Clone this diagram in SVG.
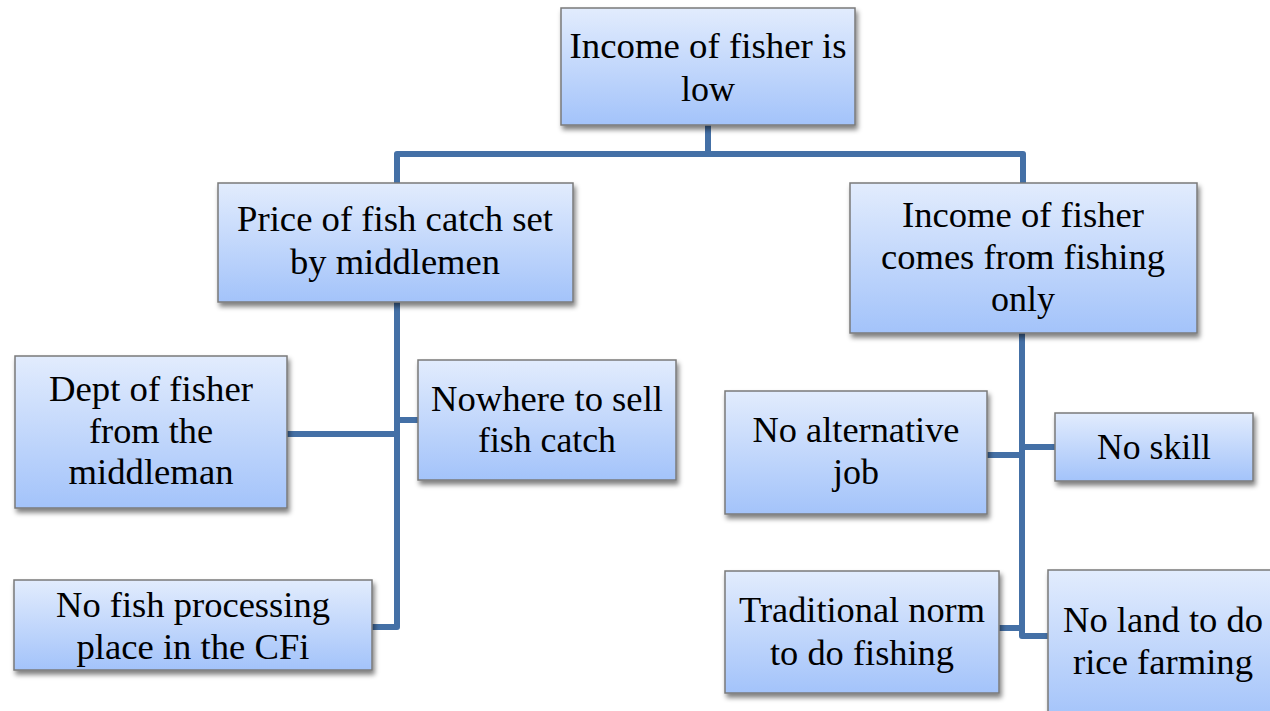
<svg xmlns="http://www.w3.org/2000/svg" width="1270" height="711" viewBox="0 0 1270 711">
<defs>
<linearGradient id="g" x1="0" y1="0" x2="0" y2="1">
<stop offset="0" stop-color="#e2ecfd"/>
<stop offset="1" stop-color="#a3c3fa"/>
</linearGradient>
<filter id="sh" x="-10%" y="-10%" width="125%" height="130%">
<feGaussianBlur in="SourceAlpha" stdDeviation="2.5"/>
<feOffset dx="2" dy="4" result="o"/>
<feComponentTransfer><feFuncA type="linear" slope="0.5"/></feComponentTransfer>
<feMerge><feMergeNode/><feMergeNode in="SourceGraphic"/></feMerge>
</filter>
</defs>
<style>
.box{fill:url(#g);stroke:#7a7a7a;stroke-width:1.5;filter:url(#sh)}
text{font-size:36px;fill:#000;text-anchor:middle}
.c{fill:none;stroke:#4470a6;stroke-width:6;stroke-linejoin:round}
</style>
<rect width="1270" height="711" fill="#fff"/>
<g id="connectors">
<path class="c" d="M708 125V154M397 183V154H1023V183"/>
<path class="c" d="M397 302V627H372M287 434H397M397 420H418"/>
<path class="c" d="M1022 333V636H1048M987 455H1022M1022 447H1055M999 628H1022"/>
</g>
<g font-family="Liberation Serif, Times New Roman, DejaVu Serif, serif">
<g id="n1"><rect class="box" x="561" y="8" width="294" height="117"/>
<text x="708" y="58" textLength="277" lengthAdjust="spacingAndGlyphs">Income of fisher is</text><text x="708" y="101">low</text></g>
<g id="n2"><rect class="box" x="218" y="183" width="355" height="119"/>
<text x="395" y="231" textLength="316" lengthAdjust="spacingAndGlyphs">Price of fish catch set</text><text x="395" y="274" textLength="210" lengthAdjust="spacingAndGlyphs">by middlemen</text></g>
<g id="n3"><rect class="box" x="850" y="183" width="347" height="150"/>
<text x="1023" y="227" textLength="242" lengthAdjust="spacingAndGlyphs">Income of fisher</text><text x="1023" y="269" textLength="284" lengthAdjust="spacingAndGlyphs">comes from fishing</text><text x="1023" y="311" textLength="64" lengthAdjust="spacingAndGlyphs">only</text></g>
<g id="n4"><rect class="box" x="15" y="356" width="272" height="152"/>
<text x="151" y="401" textLength="204" lengthAdjust="spacingAndGlyphs">Dept of fisher</text><text x="151" y="443" textLength="124" lengthAdjust="spacingAndGlyphs">from the</text><text x="151" y="484" textLength="165" lengthAdjust="spacingAndGlyphs">middleman</text></g>
<g id="n5"><rect class="box" x="418" y="360" width="258" height="120"/>
<text x="547" y="411" textLength="232" lengthAdjust="spacingAndGlyphs">Nowhere to sell</text><text x="547" y="452" textLength="138" lengthAdjust="spacingAndGlyphs">fish catch</text></g>
<g id="n6"><rect class="box" x="14" y="580" width="358" height="90"/>
<text x="193" y="617" textLength="274" lengthAdjust="spacingAndGlyphs">No fish processing</text><text x="193" y="659" textLength="233" lengthAdjust="spacingAndGlyphs">place in the CFi</text></g>
<g id="n7"><rect class="box" x="725" y="391" width="262" height="123"/>
<text x="856" y="442" textLength="207" lengthAdjust="spacingAndGlyphs">No alternative</text><text x="856" y="484">job</text></g>
<g id="n8"><rect class="box" x="1055" y="413" width="198" height="68"/>
<text x="1154" y="459" textLength="114" lengthAdjust="spacingAndGlyphs">No skill</text></g>
<g id="n9"><rect class="box" x="725" y="571" width="274" height="122"/>
<text x="862" y="622" textLength="246" lengthAdjust="spacingAndGlyphs">Traditional norm</text><text x="862" y="665" textLength="184" lengthAdjust="spacingAndGlyphs">to do fishing</text></g>
<g id="n10"><rect class="box" x="1048" y="570" width="230" height="150"/>
<text x="1163" y="632" textLength="200" lengthAdjust="spacingAndGlyphs">No land to do</text><text x="1163" y="674" textLength="180" lengthAdjust="spacingAndGlyphs">rice farming</text></g>
</g>
</svg>
